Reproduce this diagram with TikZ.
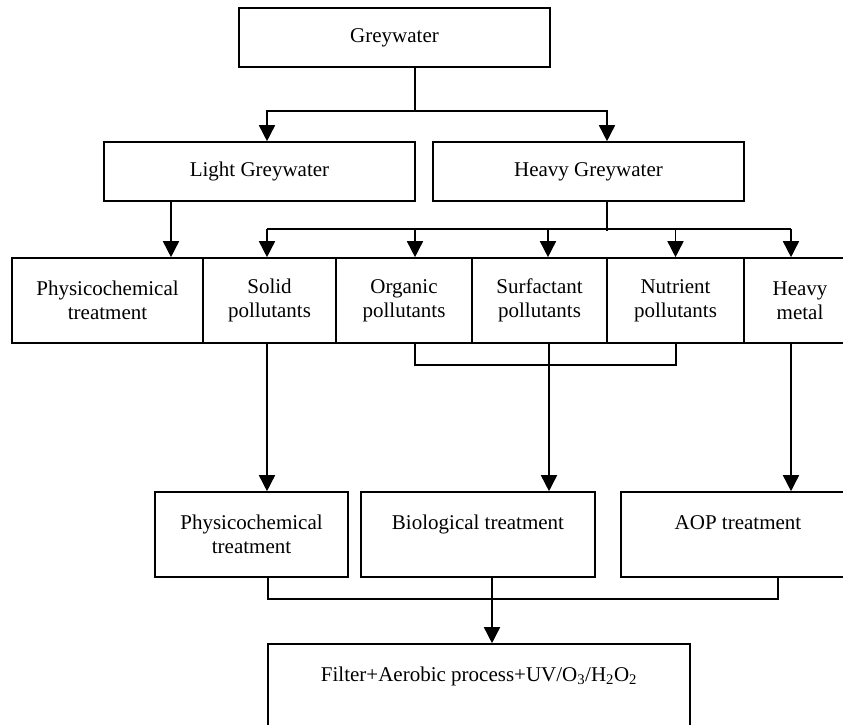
\documentclass[tikz,border=0pt]{standalone}
\usepackage{fontspec}
\setmainfont{Liberation Serif}
\usetikzlibrary{arrows.meta}

\begin{document}
\begin{tikzpicture}[
        x=1pt, y=-1pt,
        box/.style={draw, line width=1.6pt, inner sep=0pt, align=center,
            font=\fontsize{21}{24}\selectfont},
        flow/.style={line width=1.6pt},
        arr/.style={line width=1.6pt, -{Triangle[width=16pt,length=16pt]}}
    ]
    \useasboundingbox (0,0) rectangle (843,725);

    \node[
        box,
        minimum width=311pt,
        minimum height=59pt,
        name=grey
    ] at (394.5,37.5) {Greywater};

    \node[
        box,
        minimum width=311pt,
        minimum height=59pt,
        name=light
    ] at (259.5,171.5) {Light Greywater};
    \node[
        box,
        minimum width=311pt,
        minimum height=59pt,
        name=heavy
    ] at (588.5,171.5) {Heavy Greywater};

    % row of pollutant boxes
    \node[box, minimum width=191pt, minimum height=85pt, name=phys] at (107.5,300.5) {Physicochemical\\treatment};
    \node[box, minimum width=133pt, minimum height=85pt, name=solid] at (269.5,300.5) {Solid\\pollutants};
    \node[box, minimum width=136pt, minimum height=85pt, name=organic] at (404,300.5) {Organic\\pollutants};
    \node[box, minimum width=135pt, minimum height=85pt, name=surfactant] at (539.5,300.5) {Surfactant\\pollutants};
    \node[box, minimum width=137pt, minimum height=85pt, name=nutrient] at (675.5,300.5) {Nutrient\\pollutants};
    \node[box, minimum width=112pt, minimum height=85pt, name=metal] at (800,300.5) {Heavy\\metal};

    % treatment boxes
    \node[box, minimum width=193pt, minimum height=85pt, name=phys2] at (251.5,534.5) {Physicochemical\\treatment};
    \node[box, minimum width=234pt, minimum height=85pt, name=bio] at (478,534.5) {Biological treatment\\~};
    \node[box, minimum width=234pt, minimum height=85pt, name=aop] at (738,534.5) {AOP treatment\\~};

    \node[
        box,
        minimum width=422pt,
        minimum height=85pt,
        name=filter
    ] at (479,686.5) {Filter+Aerobic process+UV/O\textsubscript{3}/H\textsubscript{2}O\textsubscript{2}\\~};

    % greywater split
    \coordinate (gsplit) at ([xshift=20.5pt,yshift=-43pt]grey.south);
    \draw[flow] (gsplit |- grey.south) -- (gsplit);
    \draw[arr] (gsplit) -| ([xshift=7.5pt]light.north);
    \draw[arr] (gsplit) -| ([xshift=18.5pt]heavy.north);

    \draw[arr] ([xshift=-88.5pt]light.south) coordinate (ls) -- (ls |- phys.north);

    % heavy greywater split
    \coordinate (hsplit) at ([xshift=18.5pt,yshift=-29pt]heavy.south);
    \draw[flow] (hsplit |- heavy.south) -- (hsplit);
    \draw[flow] ([xshift=-2.5pt,yshift=28pt]solid.north) -- ([xshift=-9pt,yshift=28pt]metal.north);
    \draw[arr] ([xshift=-2.5pt,yshift=28pt]solid.north) -- ([xshift=-2.5pt]solid.north);
    \draw[arr] ([xshift=11pt,yshift=28pt]organic.north) -- ([xshift=11pt]organic.north);
    \draw[arr] ([xshift=8.5pt,yshift=28pt]surfactant.north) -- ([xshift=8.5pt]surfactant.north);
    \draw[arr] ([xshift=0pt,yshift=28pt]nutrient.north) -- ([xshift=0pt]nutrient.north);
    \draw[arr] ([xshift=-9pt,yshift=28pt]metal.north) -- ([xshift=-9pt]metal.north);

    % to treatments
    \draw[arr] ([xshift=-2.5pt]solid.south) coordinate (ss) -- (ss |- phys2.north);
    \draw[flow] ([xshift=11pt]organic.south) -- ++(0,21) -| ([xshift=0.5pt]nutrient.south);
    \draw[arr] ([xshift=9.5pt]surfactant.south) coordinate (su) -- (su |- bio.north);
    \draw[arr] ([xshift=-9pt]metal.south) coordinate (ms) -- (ms |- aop.north);

    % to final step
    \draw[flow] ([xshift=16.5pt]phys2.south) -- ++(0,21) -| ([xshift=40pt]aop.south);
    \draw[arr] ([xshift=14pt]bio.south) coordinate (bs) -- (bs |- filter.north);
\end{tikzpicture}
\end{document}
